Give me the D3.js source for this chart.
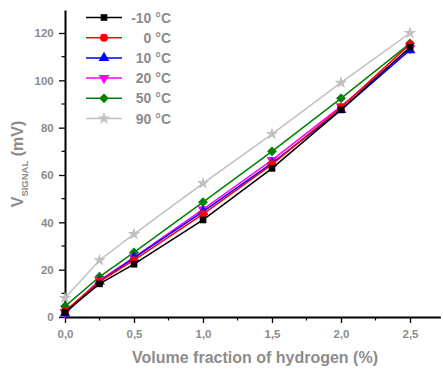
<!DOCTYPE html>
<html>
<head>
<meta charset="utf-8">
<script src="https://cdn.jsdelivr.net/npm/d3@7"></script>
<style>
  html, body { margin: 0; padding: 0; background: #fff; }
  svg { display: block; font-family: "Liberation Sans", Arial, sans-serif; }
</style>
</head>
<body>
<svg id="chart" width="443" height="370"></svg>
<script>
// Hydrogen volume fraction (%) at which the signal was measured
const fractions = [0, 0.25, 0.5, 1.0, 1.5, 2.0, 2.5];

// Sensor signal (mV) per temperature
const seriesNames = ["-10 °C", "0 °C", "10 °C", "20 °C", "50 °C", "90 °C"];
const signalM10 = [2.0, 14.0, 22.3, 41.0, 62.8, 87.5, 114.0];
const signal0   = [2.5, 15.0, 24.0, 43.5, 64.5, 88.5, 115.3];
const signal10  = [1.5, 15.0, 25.0, 44.5, 65.0, 87.5, 112.8];
const signal20  = [2.0, 15.5, 25.2, 45.5, 66.3, 89.0, 113.5];
const signal50  = [4.5, 17.0, 27.3, 48.5, 70.0, 92.4, 115.6];
const signal90  = [8.0, 24.0, 35.0, 56.5, 77.3, 99.0, 120.0];

const xTicks = [0, 0.5, 1.0, 1.5, 2.0, 2.5];
const yTicks = [0, 20, 40, 60, 80, 100, 120];

const colors  = ["#000000", "#ff0000", "#0000ff", "#ff00ff", "#008000", "#c0c0c0"];
const symbols = ["square", "circle", "triUp", "triDown", "diamond", "star"];
const symSizes = [44, 50, 50, 50, 48, 50];

const series = [signalM10, signal0, signal10, signal20, signal50, signal90].map((vals, i) => ({
  name: seriesNames[i], color: colors[i], symbol: symbols[i], size: symSizes[i],
  points: vals.map((v, j) => ({ x: fractions[j], y: v }))
}));

const svg = d3.select("#chart");
const ox = 65, oy = 317;
const x = d3.scaleLinear().domain([0, 2.72]).range([ox, ox + 2.72 * 138]);
const y = d3.scaleLinear().domain([0, 129.7]).range([oy, oy - 129.7 * (284 / 120)]);

const labelGray = "#8c8c8c";

// minor ticks
const xMinor = d3.range(0.25, 2.72, 0.5);
const yMinor = d3.range(10, 130, 20);
svg.append("g").selectAll("line").data(xMinor).join("line")
  .attr("x1", d => x(d)).attr("x2", d => x(d))
  .attr("y1", oy).attr("y2", oy + 3.5)
  .attr("stroke", "#000").attr("stroke-width", 1.2);
svg.append("g").selectAll("line").data(yMinor).join("line")
  .attr("y1", d => y(d)).attr("y2", d => y(d))
  .attr("x1", ox).attr("x2", ox - 3.5)
  .attr("stroke", "#000").attr("stroke-width", 1.2);

// axes
const xAxis = svg.append("g").attr("transform", `translate(0,${oy})`)
  .call(d3.axisBottom(x).tickValues(xTicks).tickSize(6).tickSizeOuter(0)
    .tickFormat(d => d3.format(".1f")(d).replace(".", ",")));
const yAxis = svg.append("g").attr("transform", `translate(${ox},0)`)
  .call(d3.axisLeft(y).tickValues(yTicks).tickSize(6).tickSizeOuter(0));

[xAxis, yAxis].forEach(a => {
  a.select(".domain").attr("stroke", "#000").attr("stroke-width", 2);
  a.selectAll(".tick line").attr("stroke", "#000").attr("stroke-width", 1.3);
  a.selectAll(".tick text").attr("fill", labelGray)
    .attr("font-size", 11.5).attr("font-weight", "bold")
    .attr("font-family", "'Liberation Sans', Arial, sans-serif");
});
xAxis.selectAll(".tick text").attr("dy", "1.05em");
yAxis.selectAll(".tick text").attr("dx", "-0.2em");

// marker shapes
const symbolTypes = {
  square: d3.symbolSquare, circle: d3.symbolCircle, triUp: d3.symbolTriangle,
  triDown: d3.symbolTriangle, diamond: d3.symbolSquare, star: d3.symbolStar
};
const symbolTurn = { triDown: 180, diamond: 45 };
function markerPath(sym, size) {
  return d3.symbol(symbolTypes[sym], size)();
}
function markerTransform(s, px, py) {
  const r = symbolTurn[s.symbol] || 0;
  return `translate(${px},${py})` + (r ? ` rotate(${r})` : "");
}

// series lines and markers
const line = d3.line().x(d => x(d.x)).y(d => y(d.y));
const plot = svg.append("g");
series.slice().reverse().forEach(s => {
  const g = plot.append("g");
  g.append("path").datum(s.points).attr("d", line)
    .attr("fill", "none").attr("stroke", s.color).attr("stroke-width", 1.5);
  g.selectAll("path.m").data(s.points).join("path").attr("class", "m")
    .attr("d", markerPath(s.symbol, s.size))
    .attr("transform", d => markerTransform(s, x(d.x), y(d.y)))
    .attr("fill", s.color);
});

// legend
const legend = svg.append("g");
series.forEach((s, i) => {
  const ly = 17.5 + i * 20.2;
  legend.append("line").attr("x1", 86).attr("x2", 122).attr("y1", ly).attr("y2", ly)
    .attr("stroke", s.color).attr("stroke-width", 1.5);
  legend.append("path").attr("d", markerPath(s.symbol, s.size))
    .attr("transform", markerTransform(s, 104, ly)).attr("fill", s.color);
  legend.append("text").attr("x", 171).attr("y", ly).attr("dy", "0.36em")
    .attr("text-anchor", "end").attr("fill", labelGray)
    .attr("font-size", 14).attr("font-weight", "bold").text(s.name);
});

// axis titles
svg.append("text").attr("x", 255).attr("y", 363).attr("text-anchor", "middle")
  .attr("fill", labelGray).attr("font-size", 16).attr("font-weight", "bold")
  .text("Volume fraction of hydrogen (%)");

const yt = svg.append("text").attr("transform", "translate(23,164) rotate(-90)")
  .attr("text-anchor", "middle").attr("fill", labelGray)
  .attr("font-size", 16).attr("font-weight", "bold");
yt.append("tspan").text("V");
yt.append("tspan").attr("font-size", 9.5).attr("dy", 5).text("SIGNAL");
yt.append("tspan").attr("dy", -5).text(" (mV)");
</script>
</body>
</html>
